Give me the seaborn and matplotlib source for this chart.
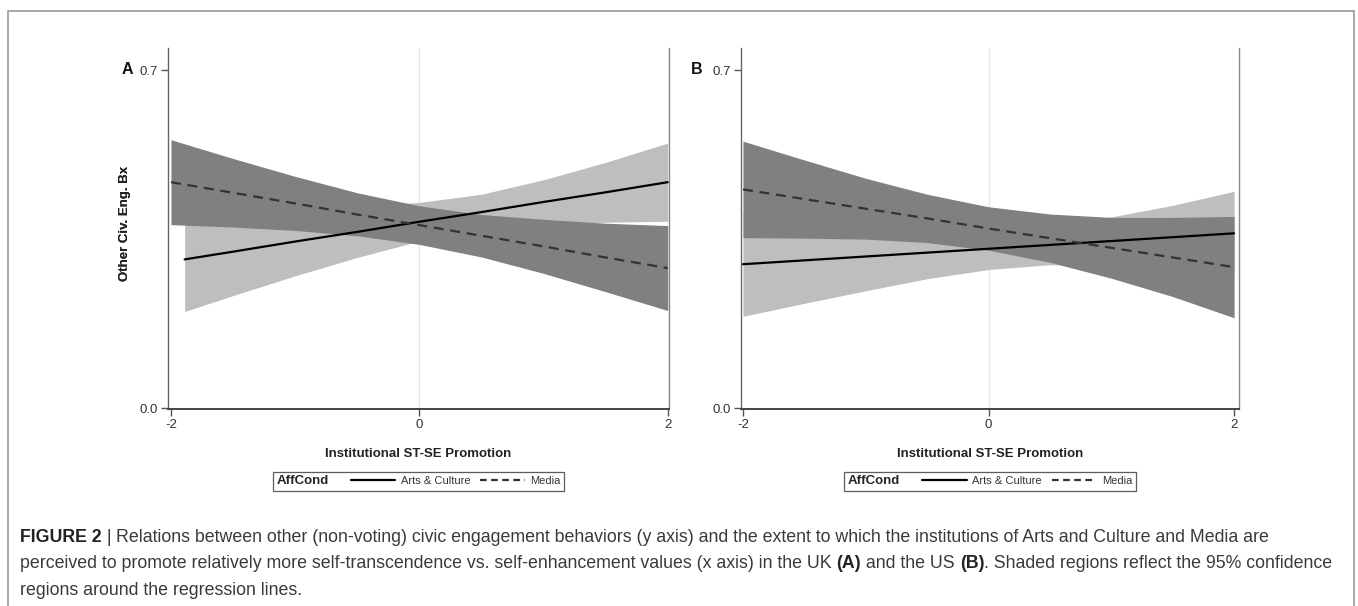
import numpy as np
import pandas as pd
import matplotlib
matplotlib.use("Agg")
import matplotlib.pyplot as plt
import seaborn as sns
from matplotlib.lines import Line2D
from matplotlib.patches import Rectangle
from matplotlib.offsetbox import HPacker

# ---------------- data ----------------
x_grid = [-2.0, -1.5, -1.0, -0.5, 0.0, 0.5, 1.0, 1.5, 2.0]
x_grid_a_arts = [-1.89, -1.5, -1.0, -0.5, 0.0, 0.5, 1.0, 1.5, 2.0]

# Panel A (UK)
a_arts_fit = [0.308, 0.324, 0.345, 0.365, 0.386, 0.406, 0.427, 0.447, 0.468]
a_arts_lo = [0.200, 0.233, 0.274, 0.312, 0.346, 0.369, 0.381, 0.385, 0.387]
a_arts_hi = [0.416, 0.415, 0.416, 0.418, 0.426, 0.443, 0.473, 0.509, 0.549]
a_media_fit = [0.468, 0.446, 0.424, 0.401, 0.379, 0.357, 0.335, 0.312, 0.290]
a_media_lo = [0.380, 0.375, 0.368, 0.357, 0.339, 0.313, 0.279, 0.241, 0.202]
a_media_hi = [0.556, 0.517, 0.480, 0.446, 0.419, 0.401, 0.391, 0.383, 0.378]

# Panel B (US)
b_arts_fit = [0.298, 0.306, 0.314, 0.322, 0.330, 0.338, 0.346, 0.354, 0.362]
b_arts_lo = [0.190, 0.217, 0.243, 0.268, 0.287, 0.297, 0.296, 0.288, 0.275]
b_arts_hi = [0.406, 0.395, 0.385, 0.376, 0.373, 0.379, 0.396, 0.420, 0.449]
b_media_fit = [0.453, 0.433, 0.413, 0.393, 0.372, 0.352, 0.332, 0.312, 0.292]
b_media_lo = [0.353, 0.352, 0.350, 0.343, 0.327, 0.302, 0.269, 0.231, 0.187]
b_media_hi = [0.553, 0.514, 0.476, 0.443, 0.417, 0.402, 0.395, 0.395, 0.397]

groups = ["Arts & Culture", "Media"]
x_ticks = [-2, 0, 2]
x_ticklabels = ["-2", "0", "2"]
y_ticks = [0.0, 0.7]
y_ticklabels = ["0.0", "0.7"]
panel_letters = ["A", "B"]
x_label = "Institutional ST-SE Promotion"
y_label = "Other Civ. Eng. Bx"
legend_title = "AffCond"

caption_lines = [
    [("FIGURE 2", "bold"), (" | ", "normal"),
     ("Relations between other (non-voting) civic engagement behaviors (y axis) and the extent to which the institutions of Arts and Culture and Media are", "normal")],
    [("perceived to promote relatively more self-transcendence vs. self-enhancement values (x axis) in the UK ", "normal"),
     ("(A)", "bold"), (" and the US ", "normal"), ("(B)", "bold"),
     (". Shaded regions reflect the 95% confidence", "normal")],
    [("regions around the regression lines.", "normal")],
]

# ---------------- styling ----------------
sns.set_theme(style="white")
narrow = ["Liberation Sans Narrow", "Liberation Sans", "DejaVu Sans"]
plt.rcParams["font.family"] = ["Liberation Sans", "DejaVu Sans"]

W, H = 1358, 606
fig = plt.figure(figsize=(W / 100, H / 100), dpi=100)

light = "#bebebe"
dark = "#808080"
palette = {"Arts & Culture": "#000000", "Media": "#333333"}
dashes = {"Arts & Culture": "", "Media": (4.5, 3)}

panels = [
    dict(x_arts=x_grid_a_arts, arts=(a_arts_fit, a_arts_lo, a_arts_hi),
         media=(a_media_fit, a_media_lo, a_media_hi),
         left=168, right=669, xlim=(-2.024, 2.01), letter_x=127),
    dict(x_arts=x_grid, arts=(b_arts_fit, b_arts_lo, b_arts_hi),
         media=(b_media_fit, b_media_lo, b_media_hi),
         left=741, right=1239, xlim=(-2.016, 2.04), letter_x=697),
]

ax_top_px, ax_bot_px = 48, 409
for i, p in enumerate(panels):
    ax = fig.add_axes([p["left"] / W, 1 - ax_bot_px / H,
                       (p["right"] - p["left"]) / W, (ax_bot_px - ax_top_px) / H])
    ax.axvline(0, color="#e6e6e6", lw=1.0, zorder=0)

    fit_a, lo_a, hi_a = p["arts"]
    fit_m, lo_m, hi_m = p["media"]
    ax.fill_between(p["x_arts"], lo_a, hi_a, color=light, lw=0, zorder=1)
    ax.fill_between(x_grid, lo_m, hi_m, color=dark, lw=0, zorder=2)

    df = pd.concat([
        pd.DataFrame({"x": p["x_arts"], "y": fit_a, "AffCond": groups[0]}),
        pd.DataFrame({"x": x_grid, "y": fit_m, "AffCond": groups[1]}),
    ])
    sns.lineplot(data=df, x="x", y="y", hue="AffCond", style="AffCond",
                 palette=palette, dashes=dashes, lw=1.6, legend=False,
                 ax=ax, zorder=3, estimator=None, sort=True)

    ax.set_xlim(*p["xlim"])
    ax.set_ylim(-0.002, 0.746)
    ax.set_xticks(x_ticks)
    ax.set_xticklabels(x_ticklabels, family=narrow, fontsize=9.5, color="#333333")
    ax.set_yticks(y_ticks)
    ax.set_yticklabels(y_ticklabels, family=narrow, fontsize=9.5, color="#333333")
    ax.tick_params(axis="both", direction="out", length=5, width=1, color="#555555",
                   pad=2, bottom=True, left=True)
    for side in ["left", "bottom", "right"]:
        ax.spines[side].set_visible(True)
    ax.spines["top"].set_visible(False)
    ax.spines["left"].set_color("#666666")
    ax.spines["right"].set_color("#888888")
    ax.spines["bottom"].set_color("#444444")
    ax.spines["left"].set_linewidth(1.0)
    ax.spines["right"].set_linewidth(1.0)
    ax.spines["bottom"].set_linewidth(1.4)

    ax.set_xlabel(x_label, family=narrow, fontsize=9.5, fontweight="bold", color="#222222")
    ax.xaxis.set_label_coords(0.5, -0.108)
    ax.set_ylabel(y_label, family=narrow, fontsize=9.5, fontweight="bold", color="#222222")
    ax.yaxis.set_label_coords(-(p["left"] - 125) / (p["right"] - p["left"]), 0.515)
    ax.yaxis.label.set_va("center")

    fig.text(p["letter_x"] / W, 1 - 70 / H, panel_letters[i], fontsize=11.5,
             fontweight="bold", ha="center", va="center", color="#111111")

    handles = [Line2D([], [], color=palette[g], lw=1.6,
                      linestyle="-" if g == groups[0] else (0, (3, 2))) for g in groups]
    leg = ax.legend(handles, groups, title=legend_title, ncol=2, loc="center",
                    bbox_to_anchor=(0.5, -0.2), frameon=True, fancybox=False,
                    prop={"family": narrow, "size": 8},
                    title_fontproperties={"family": narrow, "size": 9.5, "weight": "bold"},
                    handlelength=4.0, handletextpad=0.5, columnspacing=0.9,
                    borderpad=0.3, borderaxespad=0)
    leg.get_frame().set_edgecolor("#333333")
    leg.get_frame().set_linewidth(0.9)
    for t in leg.get_texts():
        t.set_color("#333333")
    try:
        old = leg._legend_box
        newbox = HPacker(pad=old.pad, sep=16, align="center",
                         children=[leg._legend_title_box, leg._legend_handle_box])
        newbox.set_figure(fig)
        newbox.axes = ax
        newbox.set_offset(leg._findoffset)
        leg._legend_box = newbox
    except Exception:
        pass

# outer frame
fig.add_artist(Rectangle((8 / W, -0.1), (1354 - 8) / W, 1.1 - 11 / H,
                         transform=fig.transFigure, fill=False,
                         edgecolor="#999999", lw=1.2, clip_on=False))

# caption
renderer = fig.canvas.get_renderer()
cap_y = [542, 568, 595]
for line, ypx in zip(caption_lines, cap_y):
    xpx = 20
    for txt, wt in line:
        t = fig.text(xpx / W, 1 - ypx / H, txt, fontsize=12.8, fontweight=wt,
                     color="#222222" if wt == "bold" else "#3a3a3a",
                     ha="left", va="baseline",
                     family=["Liberation Sans", "DejaVu Sans"])
        bb = t.get_window_extent(renderer)
        xpx += bb.width

fig.savefig("out.png", dpi=100)
